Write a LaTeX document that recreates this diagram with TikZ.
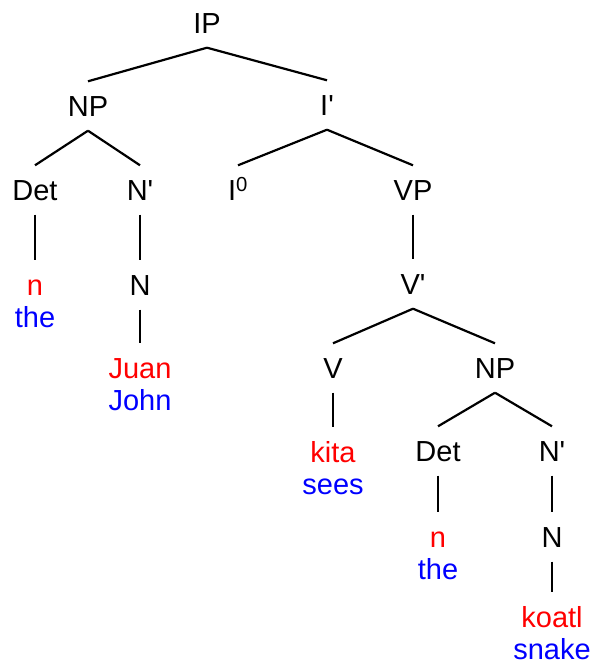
\documentclass[tikz,border=0pt]{standalone}
\usepackage{fontspec}
\setmainfont{Liberation Sans}
\usepackage{tikz}

\newcommand{\barmark}{\textquotesingle}

\tikzset{
	cat/.style={draw=none,fill=none,font=\fontsize{29}{32}\selectfont,text height=21pt,text depth=0pt,inner xsep=2pt,inner ysep=14pt},
	word/.style={cat,align=center,anchor=north,text height=53pt}
}

\begin{document}
\begin{tikzpicture}[x=1pt,y=-1pt,branch/.style={line width=2.2pt}]
		\useasboundingbox (0,0) rectangle (594,663);
		
		% phrase and bar levels
		\node[cat] (ip) at (207,23) {IP};
		\node[cat] (np) at (88,106) {NP};
		\node[cat] (ibar) at (327,105) {I\barmark};
		\node[cat] (det) at (35,190) {Det};
		\node[cat] (nbar) at (140,190) {N\barmark};
		\node[cat] (izero) at (238,190) {I\textsuperscript{0}};
		\node[cat] (vp) at (413,190) {VP};
		\node[cat] (nn) at (140,285) {N};
		\node[cat] (vbar) at (413,284) {V\barmark};
		\node[cat] (v) at (333,368) {V};
		\node[cat] (np2) at (495,368) {NP};
		\node[cat] (det2) at (438,451) {Det};
		\node[cat] (nbar2) at (552,451) {N\barmark};
		\node[cat] (nn2) at (552,537) {N};
		
		% words with their glosses
		\node[word] (n) at (35,260) {\textcolor{red}{n}\\\textcolor{blue}{the}};
		\node[word] (juan) at (140,343) {\textcolor{red}{Juan}\\\textcolor{blue}{John}};
		\node[word] (kita) at (333,427) {\textcolor{red}{kita}\\\textcolor{blue}{sees}};
		\node[word] (n2) at (438,512) {\textcolor{red}{n}\\\textcolor{blue}{the}};
		\node[word] (koatl) at (552,592) {\textcolor{red}{koatl}\\\textcolor{blue}{snake}};
		
		\draw[branch] (ip.south)--(np.north);
		\draw[branch] (ip.south)--(ibar.north);
		\draw[branch] (np.south)--(det.north);
		\draw[branch] (np.south)--(nbar.north);
		\draw[branch] (ibar.south)--(izero.north);
		\draw[branch] (ibar.south)--(vp.north);
		\draw[branch] (det.south)--(n.north);
		\draw[branch] (nbar.south)--(nn.north);
		\draw[branch] (nn.south)--(juan.north);
		\draw[branch] (vp.south)--(vbar.north);
		\draw[branch] (vbar.south)--(v.north);
		\draw[branch] (vbar.south)--(np2.north);
		\draw[branch] (v.south)--(kita.north);
		\draw[branch] (np2.south)--(det2.north);
		\draw[branch] (np2.south)--(nbar2.north);
		\draw[branch] (det2.south)--(n2.north);
		\draw[branch] (nbar2.south)--(nn2.north);
		\draw[branch] (nn2.south)--(koatl.north);
	\end{tikzpicture}
\end{document}
